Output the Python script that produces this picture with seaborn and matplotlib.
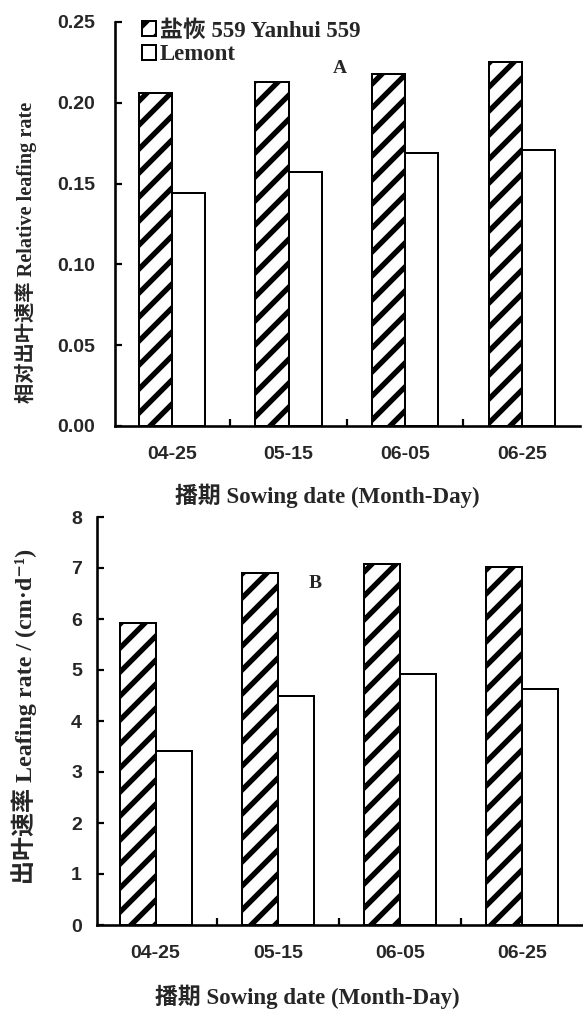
import matplotlib
matplotlib.use('Agg')
import matplotlib.pyplot as plt
import seaborn as sns
import pandas as pd
from matplotlib.patches import Patch
from matplotlib.ticker import FixedLocator

dates = ["04-25", "05-15", "06-05", "06-25"]
cultivars = ["盐恢 559 Yanhui 559", "Lemont"]
rel_yanhui = [0.206, 0.213, 0.218, 0.225]
rel_lemont = [0.144, 0.157, 0.169, 0.171]
rate_yanhui = [5.92, 6.90, 7.07, 7.02]
rate_lemont = [3.42, 4.50, 4.93, 4.63]
yticks_A = [0.00, 0.05, 0.10, 0.15, 0.20, 0.25]
yticks_B = [0, 1, 2, 3, 4, 5, 6, 7, 8]

DPI = 72          # at 72 dpi one point is one pixel
S = 100 / 72      # convert sizes thought of at 100 dpi

sns.set_theme(style="ticks")
plt.rcParams['hatch.linewidth'] = 5.3
plt.rcParams['font.family'] = ['Liberation Serif', 'Noto Sans CJK SC', 'DejaVu Sans']

fig = plt.figure(figsize=(583 / DPI, 1009 / DPI), dpi=DPI)
axA = fig.add_axes([115 / 583, 1 - 426 / 1009, 465 / 583, 404 / 1009])
axB = fig.add_axes([97 / 583, 1 - 925 / 1009, 486 / 583, 408 / 1009])

SERIF = ['Liberation Serif', 'Noto Sans CJK SC', 'DejaVu Sans']
TICKF = dict(family=['Liberation Sans', 'DejaVu Sans'], fontweight='bold', fontsize=14 * S)


def make_df(a, b):
    return pd.DataFrame({"date": dates * 2,
                         "cultivar": [cultivars[0]] * 4 + [cultivars[1]] * 4,
                         "value": a + b})


def draw(ax, df, ylim, yticks, fmt, xlim, width, ypad):
    sns.barplot(data=df, x="date", y="value", hue="cultivar", order=dates,
                hue_order=cultivars, palette=["white", "white"], edgecolor="black",
                linewidth=2.0, width=width, saturation=1, ax=ax, legend=False,
                errorbar=None)
    for p in ax.patches[:4]:
        p.set_hatch('/')
    ax.set_xlim(*xlim)
    ax.set_ylim(*ylim)
    ax.set_yticks(yticks)
    ax.set_yticklabels([fmt.format(v) for v in yticks], **TICKF)
    ax.set_xticks(range(len(dates)))
    ax.set_xticklabels(dates, **TICKF)
    ax.xaxis.set_minor_locator(FixedLocator([0.5, 1.5, 2.5]))
    ax.tick_params(axis='x', which='major', length=0, pad=20)
    ax.tick_params(axis='x', which='minor', direction='in', length=7, width=2.2, color='black')
    ax.tick_params(axis='y', direction='in', length=7, width=2.2, color='black', pad=ypad)
    for s in ['top', 'right']:
        ax.spines[s].set_visible(False)
    for s in ['left', 'bottom']:
        ax.spines[s].set_linewidth(2.6)
        ax.spines[s].set_color('black')
    ax.set_facecolor('white')


draw(axA, make_df(rel_yanhui, rel_lemont), (0, 0.25), yticks_A, "{:.2f}",
     (-0.49, 3.5), 0.57, 20)
draw(axB, make_df(rate_yanhui, rate_lemont), (0, 8), yticks_B, "{:d}",
     (-0.48, 3.5), 0.59, 15)

axA.set_xlabel("播期 Sowing date (Month-Day)", family=SERIF, fontweight='bold', fontsize=16.5 * S)
axB.set_xlabel("播期 Sowing date (Month-Day)", family=SERIF, fontweight='bold', fontsize=16.5 * S)
axA.set_ylabel("相对出叶速率 Relative leafing rate", family=SERIF, fontweight='bold', fontsize=14.6 * S)
axB.set_ylabel("出叶速率 Leafing rate / (cm·d⁻¹)", family=SERIF, fontweight='bold', fontsize=17.3 * S)
axA.xaxis.set_label_coords(0.456, -0.143)
axB.xaxis.set_label_coords(0.432, -0.146)
axA.yaxis.set_label_coords(-0.168, 0.43)
axB.yaxis.set_label_coords(-0.123, 0.512)

axA.text(0.484, 0.886, "A", transform=axA.transAxes, ha='center', va='center',
         family='Liberation Serif', fontweight='bold', fontsize=14 * S)
axB.text(0.449, 0.838, "B", transform=axB.transAxes, ha='center', va='center',
         family='Liberation Serif', fontweight='bold', fontsize=14 * S)

handles = [Patch(facecolor='white', edgecolor='black', hatch='/', linewidth=2.0),
           Patch(facecolor='white', edgecolor='black', linewidth=2.0)]
axA.legend(handles, cultivars, loc='upper left',
           bbox_to_anchor=(142 / 583, 1 - 20 / 1009), bbox_transform=fig.transFigure,
           frameon=False, handlelength=0.62, handleheight=0.62, handletextpad=0.15,
           labelspacing=0.12, borderaxespad=0, borderpad=0,
           prop=dict(family=SERIF, weight='bold', size=16.5 * S))

fig.savefig("out.png", dpi=DPI, facecolor='white')
